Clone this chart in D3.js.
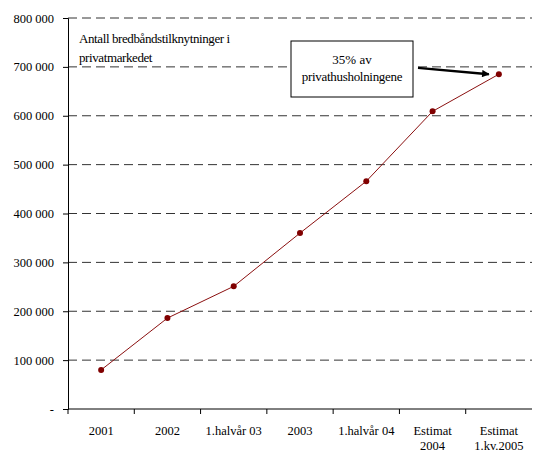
<!DOCTYPE html>
<html>
<head>
<meta charset="utf-8">
<script src="https://cdn.jsdelivr.net/npm/d3@7"></script>
<style>
  body { margin: 0; background: #fff; }
  svg text { font-family: "Liberation Serif", "DejaVu Serif", "Times New Roman", serif !important; fill: #000; }
</style>
</head>
<body>
<svg id="chart" width="537" height="454"></svg>
<script>
// Data
var categories = ['2001', '2002', '1.halvår 03', '2003', '1.halvår 04', 'Estimat\n2004', 'Estimat\n1.kv.2005'];
var values = [80000, 186000, 251000, 360000, 466000, 609000, 685000];
var yTicks = [0, 100000, 200000, 300000, 400000, 500000, 600000, 700000, 800000];
var titleLines = ['Antall bredbåndstilknytninger i', 'privatmarkedet'];
var noteLines = ['35% av', 'privathusholningene'];

var serif = 'Liberation Serif, DejaVu Serif, serif';
var margin = { top: 18, right: 5, bottom: 45, left: 68 };
var width = 537 - margin.left - margin.right;
var height = 454 - margin.top - margin.bottom;

var svg = d3.select('#chart');
var g = svg.append('g')
  .attr('transform', 'translate(' + margin.left + ',' + margin.top + ')');

var x = d3.scaleBand()
  .domain(categories)
  .range([0, width]);

var y = d3.scaleLinear()
  .domain([0, 800000])
  .range([height, 0]);

function fmt(v) {
  if (v === 0) return '-';
  return d3.format(',')(v).replace(/,/g, ' ');
}

// Dashed grid lines
g.append('g')
  .selectAll('line')
  .data(yTicks.filter(function (d) { return d > 0; }))
  .enter().append('line')
  .attr('x1', 0)
  .attr('x2', width)
  .attr('y1', function (d) { return y(d); })
  .attr('y2', function (d) { return y(d); })
  .attr('stroke', '#333')
  .attr('stroke-width', 1)
  .attr('stroke-dasharray', '9,5');

// Y axis
var yAxis = g.append('g')
  .attr('font-family', serif)
  .call(d3.axisLeft(y).tickValues(yTicks).tickFormat(fmt).tickSize(5).tickPadding(9));
yAxis.attr('font-family', serif);
yAxis.select('.domain').attr('stroke', '#000');
yAxis.selectAll('text').attr('font-size', 12.5);

// X axis with ticks at band boundaries
var xAxisG = g.append('g')
  .attr('transform', 'translate(0,' + height + ')');
xAxisG.append('line')
  .attr('x1', 0).attr('x2', width)
  .attr('stroke', '#000');
xAxisG.selectAll('.xtick')
  .data(categories)
  .enter().append('line')
  .attr('x1', function (d) { return x(d); })
  .attr('x2', function (d) { return x(d); })
  .attr('y1', 0).attr('y2', 5)
  .attr('stroke', '#000');

xAxisG.selectAll('.xlabel')
  .data(categories)
  .enter().append('text')
  .attr('text-anchor', 'middle')
  .attr('font-size', 12.5)
  .attr('transform', function (d) {
    return 'translate(' + (x(d) + x.bandwidth() / 2) + ',0)';
  })
  .each(function (d) {
    var t = d3.select(this);
    d.split('\n').forEach(function (line, i) {
      t.append('tspan')
        .attr('x', 0)
        .attr('y', 26 + i * 15)
        .text(line);
    });
  });

// Line
var line = d3.line()
  .x(function (d, i) { return x(categories[i]) + x.bandwidth() / 2; })
  .y(function (d) { return y(d); });

g.append('path')
  .datum(values)
  .attr('d', line)
  .attr('fill', 'none')
  .attr('stroke', '#8b1010')
  .attr('stroke-width', 1);

g.selectAll('.dot')
  .data(values)
  .enter().append('circle')
  .attr('cx', function (d, i) { return x(categories[i]) + x.bandwidth() / 2; })
  .attr('cy', function (d) { return y(d); })
  .attr('r', 3)
  .attr('fill', '#800000');

// Title text in the top left
var title = g.append('text')
  .attr('font-size', 13)
  .attr('letter-spacing', -0.4);
titleLines.forEach(function (l, i) {
  title.append('tspan')
    .attr('x', 11)
    .attr('y', 25 + i * 19)
    .text(l);
});

// Annotation box
var boxX = 223, boxY = 23, boxW = 122, boxH = 56;
g.append('rect')
  .attr('x', boxX).attr('y', boxY)
  .attr('width', boxW).attr('height', boxH)
  .attr('fill', '#fff')
  .attr('stroke', '#000');
var note = g.append('text')
  .attr('font-size', 13)
  .attr('text-anchor', 'middle');
noteLines.forEach(function (l, i) {
  note.append('tspan')
    .attr('x', boxX + boxW / 2)
    .attr('y', boxY + 23 + i * 17)
    .attr('letter-spacing', i === 1 ? -0.3 : 0)
    .text(l);
});

// Arrow pointing at the last point
svg.append('defs').append('marker')
  .attr('id', 'arrow')
  .attr('viewBox', '0 0 10 10')
  .attr('refX', 9).attr('refY', 5)
  .attr('markerWidth', 4).attr('markerHeight', 3)
  .attr('orient', 'auto')
  .append('path')
  .attr('d', 'M0,0 L10,5 L0,10 Z')
  .attr('fill', '#000');

var lastX = x(categories[categories.length - 1]) + x.bandwidth() / 2;
var lastY = y(values[values.length - 1]);
g.append('line')
  .attr('x1', boxX + boxW + 5)
  .attr('y1', y(700000) + 1)
  .attr('x2', lastX - 10)
  .attr('y2', lastY + 0)
  .attr('stroke', '#000')
  .attr('stroke-width', 2.5)
  .attr('marker-end', 'url(#arrow)');
</script>
</body>
</html>
